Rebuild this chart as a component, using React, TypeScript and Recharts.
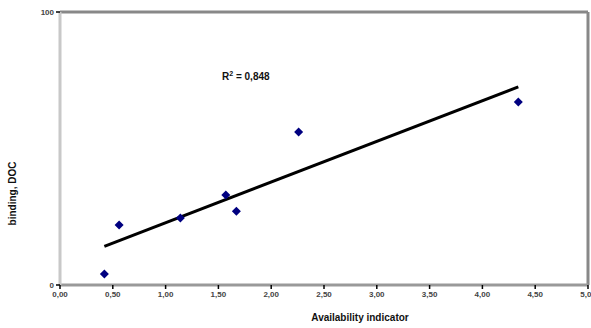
import React from 'react';
import { ScatterChart, Scatter, XAxis, YAxis, ReferenceLine } from 'recharts';

// availability indicator vs binding (DOC)
const availability = [0.42, 0.56, 1.14, 1.57, 1.67, 2.26, 4.34];
const binding = [4, 22, 24.5, 33, 27, 56, 67];
const xTicks = [0, 0.5, 1, 1.5, 2, 2.5, 3, 3.5, 4, 4.5, 5];
const yTicks = [0, 100];
const r2Label = '0,848';

const points = availability.map((x, i) => ({ x, y: binding[i] }));

// least squares trend line over the data range
const n = availability.length;
const mx = availability.reduce((a, b) => a + b, 0) / n;
const my = binding.reduce((a, b) => a + b, 0) / n;
let sxy = 0;
let sxx = 0;
availability.forEach((x, i) => {
  sxy += (x - mx) * (binding[i] - my);
  sxx += (x - mx) * (x - mx);
});
const slope = sxy / sxx;
const intercept = my - slope * mx;
const xMin = Math.min(...availability);
const xMax = Math.max(...availability);
const trend = [
  { x: xMin, y: intercept + slope * xMin },
  { x: xMax, y: intercept + slope * xMax }
];

const fmt = (v: number) => v.toFixed(2).replace('.', ',');

const Marker = (props: any) => {
  const { cx, cy } = props;
  const r = 4.5;
  return (
    <polygon
      points={`${cx},${cy - r} ${cx + r},${cy} ${cx},${cy + r} ${cx - r},${cy}`}
      fill="#000080"
    />
  );
};

const YLabel = (props: any) => {
  const { viewBox } = props;
  const x = 16;
  const y = viewBox.y + viewBox.height / 2 + 45;
  return (
    <text x={x} y={y} transform={`rotate(-90 ${x} ${y})`} textAnchor="middle" fontSize={10} fontWeight="bold" fill="#111">
      binding, DOC
    </text>
  );
};

const App: React.FC = () => {
  return (
    <div style={{ position: 'absolute', left: 0, top: 0, width: 591, height: 328, fontFamily: 'Liberation Sans, Arial, sans-serif' }}>
      <ScatterChart width={591} height={328} margin={{ top: 12, right: 3, bottom: 13, left: 0 }}>
        <XAxis
          type="number"
          dataKey="x"
          domain={[0, 5]}
          ticks={xTicks}
          tickFormatter={fmt}
          height={30}
          axisLine={{ stroke: '#999999', strokeWidth: 3 }}
          tickLine={{ stroke: '#000', strokeWidth: 1.5 }}
          tickSize={4}
          tick={{ fontSize: 8, fill: '#444', fontWeight: 'bold' }}
          interval={0}
          label={{ value: 'Availability indicator', position: 'insideBottom', offset: -6, dx: 36, fontSize: 10, fontWeight: 'bold', fill: '#111' }}
        />
        <YAxis
          type="number"
          dataKey="y"
          domain={[0, 100]}
          ticks={yTicks}
          width={60}
          axisLine={{ stroke: '#c8c8c8', strokeWidth: 3 }}
          tickLine={{ stroke: '#000', strokeWidth: 1.5 }}
          tickSize={4}
          tick={{ fontSize: 8, fill: '#444', fontWeight: 'bold' }}
          label={<YLabel />}
        />
        <ReferenceLine y={100} stroke="#888888" strokeWidth={3} />
        <ReferenceLine x={5} stroke="#888888" strokeWidth={3} />
        <Scatter
          data={trend}
          line={{ stroke: '#000', strokeWidth: 3 }}
          shape={() => null}
          isAnimationActive={false}
        />
        <Scatter data={points} fill="#000080" shape={<Marker />} isAnimationActive={false} />
      </ScatterChart>
      <div style={{ position: 'absolute', left: 222, top: 70, fontSize: 10, fontWeight: 'bold', color: '#111' }}>
        R<sup style={{ fontSize: 7 }}>2</sup> = {r2Label}
      </div>
    </div>
  );
};

export default App;
